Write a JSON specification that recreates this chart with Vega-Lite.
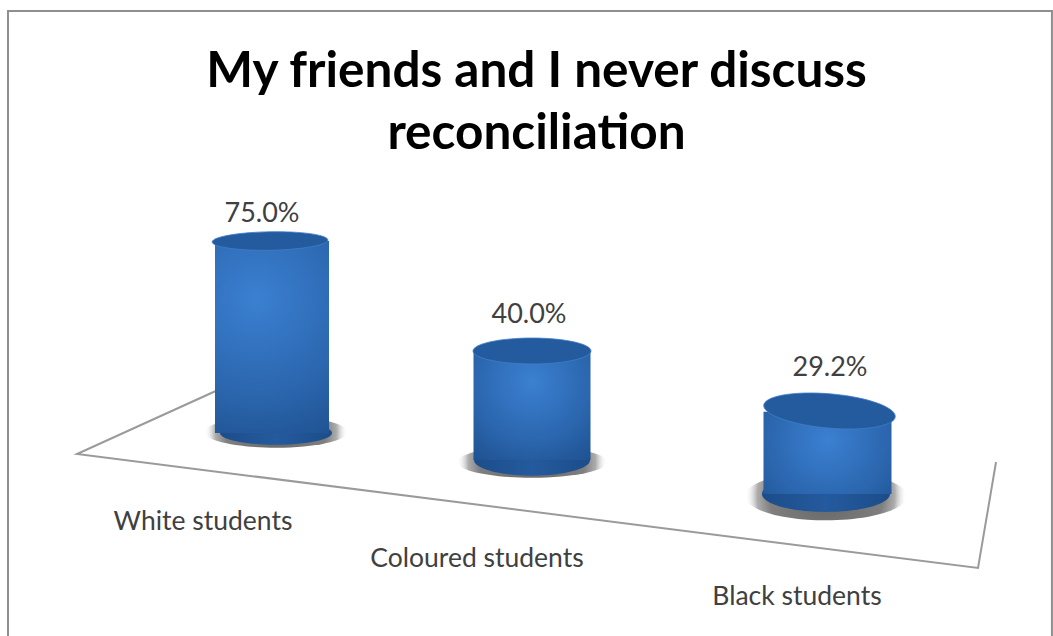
{
  "$schema": "https://vega.github.io/schema/vega-lite/v6.json",
  "width": 1053,
  "height": 636,
  "padding": 0,
  "autosize": "none",
  "background": "#ffffff",
  "view": {"stroke": null},
  "title": {
    "text": ["My friends and I never discuss", "reconciliation"],
    "font": "Lato",
    "fontSize": 49.5,
    "fontWeight": "bold",
    "color": "#000000",
    "anchor": "middle",
    "baseline": "alphabetic",
    "lineHeight": 62,
    "offset": 0,
    "dx": 10,
    "dy": 198
  },
  "datasets": {
    "students": [
      {"student": "White students", "share": 0.75},
      {"student": "Coloured students", "share": 0.4},
      {"student": "Black students", "share": 0.292}
    ],
    "frame": [
      {"order": 1, "across": 0.76, "up": 0},
      {"order": 2, "across": 0.76, "up": 98.27},
      {"order": 3, "across": 99.9, "up": 98.27},
      {"order": 4, "across": 99.9, "up": 0}
    ],
    "floor": [
      {"order": 1, "across": 20.7, "up": 38.68},
      {"order": 2, "across": 7.31, "up": 28.62},
      {"order": 3, "across": 92.88, "up": 10.69},
      {"order": 4, "across": 94.59, "up": 27.36}
    ]
  },
  "layer": [
    {
      "data": {"name": "frame"},
      "mark": {"type": "line", "stroke": "#8f8f8f", "strokeWidth": 2, "clip": false},
      "encoding": {
        "x": {"field": "across", "type": "quantitative", "axis": null, "scale": {"domain": [0, 100], "range": [0, 1053]}},
        "y": {"field": "up", "type": "quantitative", "axis": null, "scale": {"domain": [0, 100], "range": [636, 0]}},
        "order": {"field": "order"}
      }
    },
    {
      "data": {"name": "floor"},
      "mark": {"type": "line", "stroke": "#9a9a9a", "strokeWidth": 2, "strokeJoin": "miter"},
      "encoding": {
        "x": {"field": "across", "type": "quantitative", "axis": null, "scale": {"domain": [0, 100], "range": [0, 1053]}},
        "y": {"field": "up", "type": "quantitative", "axis": null, "scale": {"domain": [0, 100], "range": [636, 0]}},
        "order": {"field": "order"}
      }
    },
    {
      "description": "Soft shadow lying on the floor under each cylinder",
      "data": {"name": "students"},
      "mark": {
        "type": "point",
        "filled": true,
        "opacity": 1,
        "fill": {
          "gradient": "radial", "x1": 0.5, "y1": 0.5, "x2": 0.5, "y2": 0.5, "r1": 0, "r2": 0.5,
          "stops": [
            {"offset": 0, "color": "#666666"},
            {"offset": 0.7, "color": "#7f7f7f"},
            {"offset": 0.85, "color": "#adadad"},
            {"offset": 1, "color": "rgba(255,255,255,0)"}
          ]
        }
      },
      "encoding": {
        "x": {"field": "student", "type": "nominal", "sort": null, "axis": null, "scale": {"type": "point", "padding": 0, "domain": ["White students", "Coloured students", "Black students"], "range": [272, 827.5]}},
        "xOffset": {"field": "share", "type": "quantitative", "scale": {"domain": [0.292, 0.4, 0.75], "range": [-1.5, -17.75, 4], "zero": false, "nice": false}},
        "y": {"datum": 0, "axis": null, "type": "quantitative", "scale": {"type": "pow", "exponent": 0.9, "domain": [0, 1], "range": [433, 184.3]}},
        "yOffset": {"field": "share", "type": "quantitative", "scale": {"domain": [0.292, 0.4, 0.75], "range": [63, 29, -1], "zero": false, "nice": false}},
        "size": {"field": "share", "type": "quantitative", "legend": null, "scale": {"domain": [0.292, 0.4, 0.75], "range": [26244, 22500, 20449], "zero": false, "nice": false}},
        "shape": {"field": "student", "type": "nominal", "legend": null, "scale": {
          "domain": ["White students", "Coloured students", "Black students"],
          "range": [
            "M-1,0A1,0.22 0 1,1 1,0A1,0.22 0 1,1 -1,0Z",
            "M-1,0A1,0.21 0 1,1 1,0A1,0.21 0 1,1 -1,0Z",
            "M-1,0A1,0.3 0 1,1 1,0A1,0.3 0 1,1 -1,0Z"
          ]
        }}
      }
    },
    {
      "description": "Rounded bottom edge of each cylinder",
      "data": {"name": "students"},
      "mark": {
        "type": "point",
        "filled": true,
        "opacity": 1,
        "fill": {
          "gradient": "linear", "x1": 0, "y1": 0, "x2": 1, "y2": 0,
          "stops": [
            {"offset": 0, "color": "#1c4d8a"},
            {"offset": 0.5, "color": "#245a9e"},
            {"offset": 1, "color": "#1c4d8a"}
          ]
        }
      },
      "encoding": {
        "x": {"field": "student", "type": "nominal", "sort": null, "axis": null, "scale": {"type": "point", "padding": 0, "domain": ["White students", "Coloured students", "Black students"], "range": [272, 827.5]}},
        "xOffset": {"field": "share", "type": "quantitative", "scale": {"domain": [0.292, 0.4, 0.75], "range": [-1.5, -17.75, 4], "zero": false, "nice": false}},
        "y": {"datum": 0, "type": "quantitative", "axis": null, "scale": {"type": "pow", "exponent": 0.9, "domain": [0, 1], "range": [433, 184.3]}},
        "yOffset": {"field": "share", "type": "quantitative", "scale": {"domain": [0.292, 0.4, 0.75], "range": [61, 27, 0], "zero": false, "nice": false}},
        "size": {"field": "share", "type": "quantitative", "legend": null, "scale": {"domain": [0.292, 0.4, 0.75], "range": [16384, 13456, 12544], "zero": false, "nice": false}},
        "shape": {"field": "student", "type": "nominal", "legend": null, "scale": {
          "domain": ["White students", "Coloured students", "Black students"],
          "range": [
            "M-1,0A1,0.21 0 1,1 1,0A1,0.21 0 1,1 -1,0Z",
            "M-1,0A1,0.27 0 1,1 1,0A1,0.27 0 1,1 -1,0Z",
            "M-1,0A1,0.28 0 1,1 1,0A1,0.28 0 1,1 -1,0Z"
          ]
        }}
      }
    },
    {
      "description": "Wall of the White students cylinder, rising from its spot on the floor",
      "data": {"name": "students"},
      "transform": [{"filter": "datum.student === 'White students'"}],
      "mark": {
        "type": "bar",
        "size": 114,
        "fill": {
          "gradient": "radial", "x1": 0.42, "y1": 0.3, "x2": 0.42, "y2": 0.3, "r1": 0, "r2": 0.9,
          "stops": [
            {"offset": 0, "color": "#3b80d2"},
            {"offset": 0.55, "color": "#2b66ae"},
            {"offset": 1, "color": "#1c4d8a"}
          ]
        }
      },
      "encoding": {
        "x": {"field": "student", "type": "nominal", "sort": null, "axis": null, "scale": {"type": "point", "padding": 0, "domain": ["White students", "Coloured students", "Black students"], "range": [272, 827.5]}},
        "y": {"field": "share", "type": "quantitative", "axis": null, "scale": {"type": "pow", "exponent": 0.9, "domain": [0, 1], "range": [433, 184.3]}},
        "y2": {"datum": 0}
      }
    },
    {
      "description": "Wall of the Coloured students cylinder",
      "data": {"name": "students"},
      "transform": [{"filter": "datum.student === 'Coloured students'"}],
      "mark": {
        "type": "bar",
        "size": 117,
        "fill": {
          "gradient": "radial", "x1": 0.5, "y1": 0.3, "x2": 0.5, "y2": 0.3, "r1": 0, "r2": 0.9,
          "stops": [
            {"offset": 0, "color": "#3b80d2"},
            {"offset": 0.55, "color": "#2b66ae"},
            {"offset": 1, "color": "#1c4d8a"}
          ]
        }
      },
      "encoding": {
        "x": {"field": "student", "type": "nominal", "sort": null, "axis": null, "scale": {"type": "point", "padding": 0, "domain": ["White students", "Coloured students", "Black students"], "range": [272, 827.5]}},
        "xOffset": {"field": "share", "type": "quantitative", "scale": {"domain": [0.292, 0.4, 0.75], "range": [0, -17.75, 0], "zero": false, "nice": false}},
        "y": {"field": "share", "type": "quantitative", "axis": null, "scale": {"type": "pow", "exponent": 0.9, "domain": [0, 1], "range": [460, 211.3]}},
        "y2": {"datum": 0}
      }
    },
    {
      "description": "Wall of the Black students cylinder",
      "data": {"name": "students"},
      "transform": [{"filter": "datum.student === 'Black students'"}],
      "mark": {
        "type": "bar",
        "size": 128,
        "fill": {
          "gradient": "radial", "x1": 0.5, "y1": 0.4, "x2": 0.5, "y2": 0.4, "r1": 0, "r2": 0.85,
          "stops": [
            {"offset": 0, "color": "#3b80d2"},
            {"offset": 0.55, "color": "#2b66ae"},
            {"offset": 1, "color": "#1c4d8a"}
          ]
        }
      },
      "encoding": {
        "x": {"field": "student", "type": "nominal", "sort": null, "axis": null, "scale": {"type": "point", "padding": 0, "domain": ["White students", "Coloured students", "Black students"], "range": [272, 827.5]}},
        "y": {"field": "share", "type": "quantitative", "axis": null, "scale": {"type": "pow", "exponent": 0.9, "domain": [0, 1], "range": [494, 245.3]}},
        "y2": {"datum": 0}
      }
    },
    {
      "description": "Cylinder lids at the height of each share",
      "data": {"name": "students"},
      "mark": {"type": "point", "filled": true, "opacity": 1, "fill": "#245b9e", "stroke": "#3f7fc8", "strokeWidth": 0.8},
      "encoding": {
        "x": {"field": "student", "type": "nominal", "sort": null, "axis": null, "scale": {"type": "point", "padding": 0, "domain": ["White students", "Coloured students", "Black students"], "range": [272, 827.5]}},
        "xOffset": {"field": "share", "type": "quantitative", "scale": {"domain": [0.292, 0.4, 0.75], "range": [2, -17.75, -2], "zero": false, "nice": false}},
        "y": {"field": "share", "type": "quantitative", "axis": null, "scale": {"domain": [0.292, 0.4, 0.75], "range": [411, 351, 241], "zero": false, "nice": false}},
        "size": {"field": "share", "type": "quantitative", "legend": null, "scale": {"domain": [0.292, 0.4, 0.75], "range": [16641, 13924, 13225], "zero": false, "nice": false}},
        "shape": {"field": "student", "type": "nominal", "legend": null, "scale": {
          "domain": ["White students", "Coloured students", "Black students"],
          "range": [
            "M-1,0A1,0.16 -1 1,1 1,0A1,0.16 -1 1,1 -1,0Z",
            "M-1,0A1,0.22 0 1,1 1,0A1,0.22 0 1,1 -1,0Z",
            "M-1,-0.03A1,0.26 5 1,1 1,0.03A1,0.26 5 1,1 -1,-0.03Z"
          ]
        }}
      }
    },
    {
      "description": "Percentage above each cylinder",
      "data": {"name": "students"},
      "mark": {"type": "text", "font": "Lato", "fontSize": 27, "color": "#404040", "baseline": "alphabetic", "align": "center"},
      "encoding": {
        "x": {"field": "student", "type": "nominal", "sort": null, "axis": null, "scale": {"type": "point", "padding": 0, "domain": ["White students", "Coloured students", "Black students"], "range": [272, 827.5]}},
        "xOffset": {"field": "share", "type": "quantitative", "scale": {"domain": [0.292, 0.4, 0.75], "range": [2.5, -20.75, -10], "zero": false, "nice": false}},
        "y": {"field": "share", "type": "quantitative", "axis": null, "scale": {"domain": [0.292, 0.4, 0.75], "range": [376, 323, 222], "zero": false, "nice": false}},
        "text": {"field": "share", "type": "quantitative", "format": ".1%"}
      }
    },
    {
      "description": "Category names along the front of the floor",
      "data": {"name": "students"},
      "mark": {"type": "text", "font": "Lato", "fontSize": 26.5, "color": "#404040", "baseline": "alphabetic", "align": "center"},
      "encoding": {
        "x": {"field": "student", "type": "nominal", "sort": null, "axis": null, "scale": {"type": "point", "padding": 0, "domain": ["White students", "Coloured students", "Black students"], "range": [272, 827.5]}},
        "xOffset": {"field": "share", "type": "quantitative", "scale": {"domain": [0.292, 0.4, 0.75], "range": [-30.5, -72.75, -69], "zero": false, "nice": false}},
        "y": {"datum": 0, "type": "quantitative", "axis": null, "scale": {"type": "pow", "exponent": 0.9, "domain": [0, 1], "range": [433, 184.3]}},
        "yOffset": {"field": "share", "type": "quantitative", "scale": {"domain": [0.292, 0.4, 0.75], "range": [172, 134, 97], "zero": false, "nice": false}},
        "text": {"field": "student", "type": "nominal"}
      }
    }
  ],
  "resolve": {
    "scale": {
      "x": "independent",
      "y": "independent",
      "xOffset": "independent",
      "yOffset": "independent",
      "size": "independent",
      "shape": "independent"
    }
  }
}
